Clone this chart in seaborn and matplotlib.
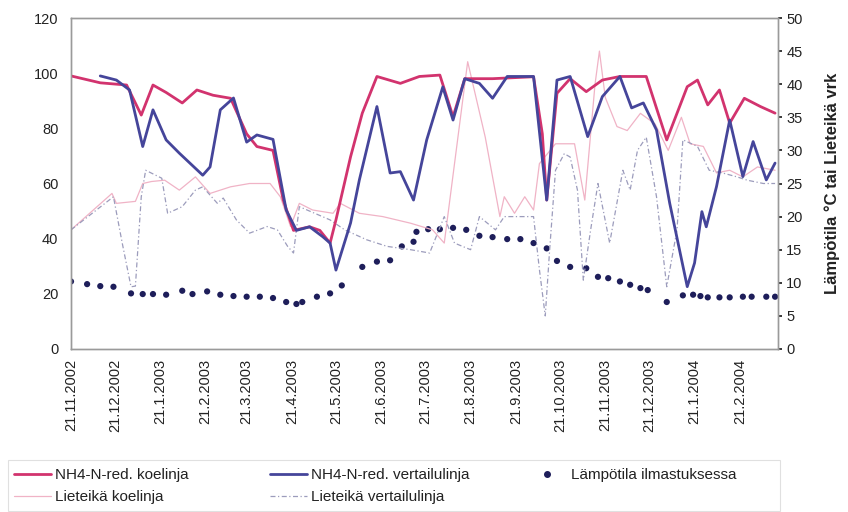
import numpy as np
import pandas as pd
import matplotlib
matplotlib.use("Agg")
import matplotlib.pyplot as plt
from matplotlib.lines import Line2D
from matplotlib.patches import Rectangle
import seaborn as sns

# Sampling days are counted from 21.11.2002
START = pd.Timestamp("2002-11-21")

# NH4-N reduction, test line (%)
nh4_koe_day = [0, 20, 38, 48, 56, 65, 76, 86, 97, 109, 120, 127, 138, 145, 152, 163, 170, 177, 181, 191,
               199, 209, 225, 238, 252, 261, 269, 288, 316, 322, 325, 332, 341, 352, 363, 375, 393, 407,
               421, 428, 435, 443, 450, 460, 471, 481]
nh4_koe = [99, 96.5, 95.7, 84.8, 95.7, 93, 89.2, 93.9, 92, 90.9, 78, 73.4, 72, 54, 43, 44.3, 43, 38.4, 46.8,
           69.7, 85.5, 98.8, 96.3, 98.8, 99.3, 84.2, 98, 98, 98.7, 78, 54, 92.7, 98, 93.3, 97.5, 98.8, 98.8,
           75.8, 95.1, 97.5, 88.5, 93.9, 81.9, 90.9, 87.9, 85.5]

# NH4-N reduction, reference line (%)
nh4_vert_day = [20, 31, 40, 49, 56, 65, 74, 90, 95, 102, 111, 120, 127, 138, 147, 154, 163, 172, 177, 181,
                191, 197, 209, 218, 225, 234, 243, 254, 261, 269, 279, 288, 298, 316, 325, 332, 341, 353,
                363, 375, 383, 391, 400, 409, 421, 426, 431, 434, 441, 450, 459, 466, 475, 481]
nh4_vert = [99, 97.5, 93.9, 73.4, 86.7, 75.8, 71, 63, 66, 86.7, 91, 75, 77.6, 76, 50.4, 43, 44.3, 40.7, 38.4,
            28.6, 45.7, 61.3, 87.9, 63.8, 64.3, 54, 75.8, 95, 83, 98, 96.3, 90.9, 98.8, 98.8, 54, 97.5, 98.8,
            77, 91.5, 98.8, 87.4, 89.2, 79.4, 52.9, 22.6, 31.2, 49.8, 44.3, 58.9, 83, 62.5, 75.2, 61.3, 67.4]

# Aeration temperature (°C)
temp_day = [0, 11, 20, 29, 41, 49, 56, 65, 76, 83, 93, 102, 111, 120, 129, 138, 147, 154, 158, 168, 177,
            185, 199, 209, 218, 226, 234, 236, 244, 252, 261, 270, 279, 288, 298, 307, 316, 325, 332, 341,
            352, 360, 367, 375, 382, 389, 394, 407, 418, 425, 430, 435, 443, 450, 459, 465, 475, 481]
temp = [10.2, 9.8, 9.5, 9.4, 8.4, 8.3, 8.3, 8.2, 8.8, 8.3, 8.7, 8.2, 8.0, 7.9, 7.9, 7.7, 7.1, 6.8, 7.1, 7.9,
        8.4, 9.6, 12.4, 13.2, 13.4, 15.5, 16.2, 17.7, 18.1, 18.1, 18.3, 18.0, 17.1, 16.9, 16.6, 16.6, 16.0,
        15.2, 13.3, 12.4, 12.2, 10.9, 10.7, 10.2, 9.7, 9.2, 8.9, 7.1, 8.1, 8.2, 8.0, 7.8, 7.8, 7.8, 7.9, 7.9,
        7.9, 7.9]

# Sludge age, test line (d)
liet_koe_day = [0, 28, 31, 44, 49, 55, 64, 74, 85, 95, 109, 122, 136, 143, 150, 156, 165, 179, 184, 197,
                213, 232, 247, 255, 271, 283, 293, 296, 303, 310, 316, 320, 331, 344, 351, 358, 361, 365,
                373, 380, 389, 399, 408, 417, 423, 432, 441, 450, 459, 469, 481]
liet_koe = [18, 23.5, 22, 22.3, 25, 25.3, 25.5, 24, 26, 23.5, 24.5, 25, 25, 23, 18.5, 22, 21, 20.5, 22, 20.5,
            20, 19, 18, 16, 43.4, 32, 20, 23, 20.5, 23, 21, 28, 31, 31, 22.5, 40, 45, 38, 33.6, 33, 35.6, 34,
            30, 35, 31, 30.6, 26.6, 27, 26, 27.5, 27]

# Sludge age, reference line (d)
liet_vert_day = [0, 29, 35, 41, 44, 48, 51, 62, 66, 76, 85, 90, 100, 104, 113, 122, 134, 141, 148, 152,
                 156, 177, 187, 202, 216, 232, 245, 255, 262, 273, 279, 290, 296, 307, 316, 320, 324, 327,
                 331, 337, 341, 346, 350, 355, 360, 368, 377, 382, 387, 393, 400, 407, 414, 418, 428, 436,
                 445, 455, 462, 473, 481]
liet_vert = [18, 23, 16, 9.4, 9.5, 23, 27, 25.8, 20.5, 21.5, 24, 24.5, 22, 22.8, 19.5, 17.5, 18.5, 18, 15.5,
             14.5, 21.5, 19.5, 18, 16.5, 15.5, 15, 14.5, 20, 16, 15, 20, 18, 20, 20, 20, 12, 5, 15, 27, 29.5,
             29, 24, 10.4, 18, 25, 16, 27, 24, 30, 32, 23, 9.4, 18, 31.6, 30.6, 27, 26.6, 26, 25.5, 25, 25]

tick_labels = ["21.11.2002", "21.12.2002", "21.1.2003", "21.2.2003", "21.3.2003", "21.4.2003",
               "21.5.2003", "21.6.2003", "21.7.2003", "21.8.2003", "21.9.2003", "21.10.2003",
               "21.11.2003", "21.12.2003", "21.1.2004", "21.2.2004"]

labels = ["NH4-N-red. koelinja", "NH4-N-red. vertailulinja", "Lämpötila ilmastuksessa",
          "Lieteikä koelinja", "Lieteikä vertailulinja"]


def frame(days, values):
    return pd.DataFrame({"date": START + pd.to_timedelta(days, unit="D"), "value": values})


sns.set_theme(style="white")
plt.rcParams["font.family"] = ["Liberation Sans", "DejaVu Sans"]

C_KOE = "#D2336E"
C_VERT = "#45459A"
C_TEMP = "#1E1E5A"
C_LKOE = "#F0B3C6"
C_LVERT = "#9C9CBC"
EDGE = "#9A9A9A"
TXT = "#222222"
DASHDOT = (0, (4, 2, 1, 2))

W, H = 848, 512
fig = plt.figure(figsize=(W / 100, H / 100), dpi=100)
ax = fig.add_axes([71 / W, 1 - 349 / H, (778 - 71) / W, (349 - 18) / H])
ax2 = ax.twinx()

# Sludge ages and temperature on the right axis
sns.lineplot(data=frame(liet_koe_day, liet_koe), x="date", y="value", ax=ax2,
             color=C_LKOE, linewidth=0.9, legend=False)
sns.lineplot(data=frame(liet_vert_day, liet_vert), x="date", y="value", ax=ax2,
             color=C_LVERT, linewidth=0.9, linestyle=DASHDOT, legend=False)
sns.scatterplot(data=frame(temp_day, temp), x="date", y="value", ax=ax2,
                color=C_TEMP, s=20, marker="o", edgecolor="none", legend=False)

# NH4-N reductions on the left axis, drawn above
ax.set_zorder(ax2.get_zorder() + 1)
ax.patch.set_visible(False)
sns.lineplot(data=frame(nh4_koe_day, nh4_koe), x="date", y="value", ax=ax,
             color=C_KOE, linewidth=2.0, legend=False)
sns.lineplot(data=frame(nh4_vert_day, nh4_vert), x="date", y="value", ax=ax,
             color=C_VERT, linewidth=2.0, legend=False)

ax.set_xlim(START, START + pd.Timedelta(days=483))
ax.set_ylim(0, 120)
ax2.set_ylim(0, 50)
ax.set_yticks(np.arange(0, 121, 20))
ax2.set_yticks(np.arange(0, 51, 5))

tick_pos = [START + pd.DateOffset(months=i) for i in range(len(tick_labels))]
ax.set_xticks(tick_pos)
ax.set_xticklabels(tick_labels, rotation=90, fontsize=10.5, color=TXT)
ax.tick_params(axis="x", length=3, color=EDGE, pad=4)
ax.tick_params(axis="y", labelsize=10.5, colors=TXT, length=0, pad=9)
ax2.tick_params(axis="y", labelsize=10.5, colors=TXT, length=3, pad=3)
for a in (ax, ax2):
    a.set_xlabel("")
    a.set_ylabel("")
    for s in a.spines.values():
        s.set_color(EDGE)
        s.set_linewidth(1.0)

ax2.set_ylabel("Lämpötila °C tai Lieteikä vrk", fontsize=12, fontweight="bold",
               color=TXT, labelpad=16)

# Legend: three columns, framed together
h_koe = Line2D([], [], color=C_KOE, linewidth=2.0)
h_vert = Line2D([], [], color=C_VERT, linewidth=2.0)
h_temp = Line2D([], [], color=C_TEMP, marker="o", markersize=4, linestyle="none")
h_lkoe = Line2D([], [], color=C_LKOE, linewidth=0.9)
h_lvert = Line2D([], [], color=C_LVERT, linewidth=0.9, linestyle=DASHDOT)

columns = [
    ([h_koe, h_lkoe], [labels[0], labels[3]], 14, 2.4, 0.3),
    ([h_vert, h_lvert], [labels[1], labels[4]], 270, 2.4, 0.3),
    ([h_temp], [labels[2]], 536, 1.5, 0.8),
]
for hs, ls, x, hl, tp in columns:
    fig.legend(hs, ls, loc="upper left", bbox_to_anchor=(x / W, 1 - 468 / H),
               frameon=False, fontsize=11, handlelength=hl, handletextpad=tp,
               labelspacing=0.55, borderpad=0, borderaxespad=0, labelcolor=TXT)

fig.patches.append(Rectangle((8 / W, 0.002), (780 - 8) / W, (511 - 460) / H,
                             transform=fig.transFigure, fill=False,
                             edgecolor="#E0E0E0", linewidth=0.8))

fig.savefig("out.png", dpi=100)
